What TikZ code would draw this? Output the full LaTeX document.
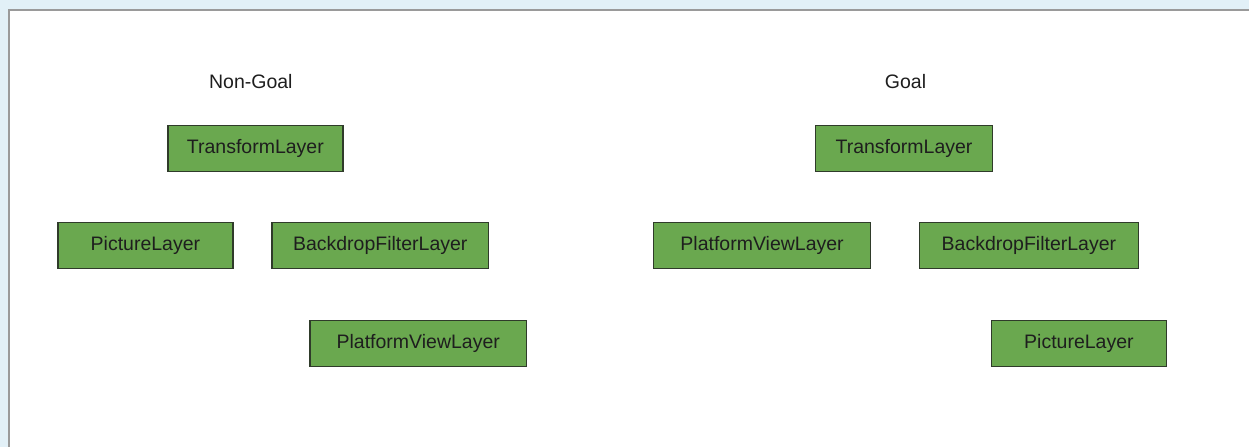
\documentclass[tikz,border=0pt]{standalone}
\usepackage{fontspec}
\setmainfont{Liberation Sans}
\usepackage{tikz}

\definecolor{pageblue}{HTML}{E2F0F7}
\definecolor{framegray}{HTML}{9A9A9A}
\definecolor{layergreen}{HTML}{6AA84F}
\definecolor{layerline}{HTML}{2F3B2A}
\definecolor{labeltext}{HTML}{1E1E1E}

\begin{document}
\begin{tikzpicture}[x=1cm, y=1cm,
  layer/.style={draw=layerline, fill=layergreen, line width=0.8pt, minimum height=0.92cm, inner sep=0pt, text=labeltext, font=\fontsize{11.1}{13}\selectfont},
  heading/.style={text=labeltext, font=\fontsize{11.1}{13}\selectfont}]

\fill[pageblue] (0,0) rectangle (25,-8.94);
\fill[white] (0.18,-0.2) rectangle (25,-8.94);
\draw[framegray, line width=0.8pt] (0.18,-8.94) -- (0.18,-0.2) -- (25,-0.2);

\node[heading] (nongoal) at (5.02,-1.64) {Non-Goal};
\node[layer, minimum width=3.5cm] (ngTransform) at (5.11,-2.97) {TransformLayer};
\node[layer, minimum width=3.5cm] (ngPicture) at (2.91,-4.91) {PictureLayer};
\node[layer, minimum width=4.34cm] (ngBackdrop) at (7.61,-4.91) {BackdropFilterLayer};
\node[layer, minimum width=4.34cm] (ngPlatform) at (8.37,-6.87) {PlatformViewLayer};

\node[heading] (goal) at (18.12,-1.64) {Goal};
\node[layer, minimum width=3.54cm] (gTransform) at (18.09,-2.97) {TransformLayer};
\node[layer, minimum width=4.34cm] (gPlatform) at (15.25,-4.91) {PlatformViewLayer};
\node[layer, minimum width=4.38cm] (gBackdrop) at (20.59,-4.91) {BackdropFilterLayer};
\node[layer, minimum width=3.5cm] (gPicture) at (21.59,-6.87) {PictureLayer};

\end{tikzpicture}
\end{document}
